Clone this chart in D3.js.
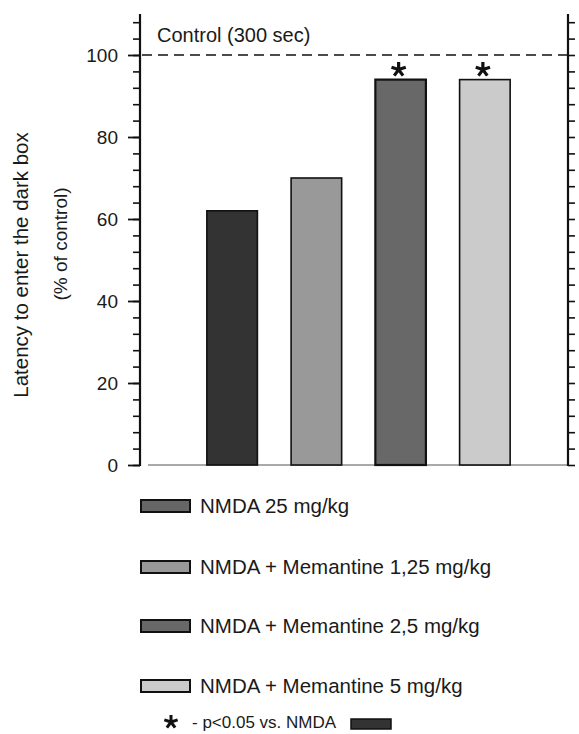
<!DOCTYPE html>
<html>
<head>
<meta charset="utf-8">
<script src="https://cdn.jsdelivr.net/npm/d3@7"></script>
<style>
  body { margin: 0; background: #fff; }
  text { font-family: "Liberation Sans", Arial, sans-serif; fill: #1a1a1a; }
</style>
</head>
<body>
<svg width="579" height="734"></svg>
<script>
// data
var groups = ["NMDA 25 mg/kg", "NMDA + Memantine 1,25 mg/kg", "NMDA + Memantine 2,5 mg/kg", "NMDA + Memantine 5 mg/kg"];
var values = [62, 70, 94, 94];
var signif = [false, false, true, true];
var fills = ["#333333", "#999999", "#686868", "#cbcbcb"];
var majorTicks = [0, 20, 40, 60, 80, 100];
var minorTicks = d3.range(0, 110, 4);
var controlValue = 100;

var svg = d3.select("svg");

var y = d3.scaleLinear().domain([0, 110]).range([465, 14]);
var x = d3.scaleBand().domain(groups).range([190, 527]).paddingInner(0.4).paddingOuter(0.2);

var left = 140, right = 568;

// 5-armed asterisk path
function starPath(r) {
  var p = d3.path();
  for (var k = 0; k < 5; k++) {
    var a = -Math.PI / 2 + k * 2 * Math.PI / 5;
    p.moveTo(0, 0);
    p.lineTo(r * Math.cos(a), r * Math.sin(a));
  }
  return p.toString();
}

// baseline
svg.append("line")
  .attr("x1", 148).attr("x2", right)
  .attr("y1", y(0)).attr("y2", y(0))
  .attr("stroke", "#555").attr("stroke-width", 1);

// left axis
var yAxisMinor = d3.axisLeft(y).tickValues(minorTicks).tickSize(7).tickFormat("");
svg.append("g").attr("transform", "translate(" + left + ",0)").call(yAxisMinor)
  .call(function(g) { g.select(".domain").remove(); })
  .selectAll("line").attr("stroke", "#111").attr("stroke-width", 1.6);

var yAxis = d3.axisLeft(y).tickValues(majorTicks).tickSize(12).tickPadding(10);
var gy = svg.append("g").attr("transform", "translate(" + left + ",0)").call(yAxis);
gy.select(".domain").remove();
gy.selectAll("line").attr("stroke", "#111").attr("stroke-width", 1.8);
gy.selectAll("text").style("font-size", "19px").attr("fill", "#1a1a1a")
  .style("font-family", "'Liberation Sans', Arial, sans-serif");

svg.append("line")
  .attr("x1", left).attr("x2", left)
  .attr("y1", y(110)).attr("y2", y(0) + 1)
  .attr("stroke", "#111").attr("stroke-width", 2.2);

// right axis
var yAxisRight = d3.axisRight(y).tickValues(minorTicks).tickSize(7).tickFormat("");
svg.append("g").attr("transform", "translate(" + right + ",0)").call(yAxisRight)
  .call(function(g) { g.select(".domain").remove(); })
  .selectAll("line").attr("stroke", "#111").attr("stroke-width", 1.6);
svg.append("line")
  .attr("x1", right).attr("x2", right)
  .attr("y1", y(110)).attr("y2", y(0) + 1)
  .attr("stroke", "#111").attr("stroke-width", 2.2);

// control line
svg.append("line")
  .attr("x1", left + 2).attr("x2", right)
  .attr("y1", y(controlValue)).attr("y2", y(controlValue))
  .attr("stroke", "#111").attr("stroke-width", 1.6)
  .attr("stroke-dasharray", "10,6");

svg.append("text")
  .attr("x", 157).attr("y", 42)
  .style("font-size", "20px")
  .text("Control (300 sec)");

// bars
svg.selectAll("rect.bar")
  .data(values)
  .enter().append("rect")
  .attr("class", "bar")
  .attr("x", function(d, i) { return x(groups[i]); })
  .attr("y", function(d) { return y(d); })
  .attr("width", x.bandwidth())
  .attr("height", function(d) { return y(0) - y(d); })
  .attr("fill", function(d, i) { return fills[i]; })
  .attr("stroke", "#111")
  .attr("stroke-width", function(d, i) { return i == 2 ? 2.2 : 1.6; });

// significance stars
groups.forEach(function(g, i) {
  if (!signif[i]) return;
  svg.append("path")
    .attr("transform", "translate(" + (x(g) + x.bandwidth() / 2 - 2) + "," + (y(values[i]) - 10) + ")")
    .attr("d", starPath(7.5))
    .attr("stroke", "#111")
    .attr("stroke-width", 3.2)
    .attr("fill", "none");
});

// y title
svg.append("text")
  .attr("transform", "translate(28,265) rotate(-90)")
  .attr("text-anchor", "middle")
  .style("font-size", "20.5px")
  .text("Latency to enter the dark box");
svg.append("text")
  .attr("transform", "translate(67,244) rotate(-90)")
  .attr("text-anchor", "middle")
  .style("font-size", "19px")
  .text("(% of control)");

// legend
var legendY = [506, 567, 626, 686];
var legend = svg.selectAll("g.legend")
  .data(groups)
  .enter().append("g")
  .attr("class", "legend")
  .attr("transform", function(d, i) { return "translate(141," + legendY[i] + ")"; });

legend.append("rect")
  .attr("x", 0).attr("y", -6)
  .attr("width", 49).attr("height", 12)
  .attr("fill", function(d, i) { return i == 0 ? "#666" : fills[i]; })
  .attr("stroke", "#111")
  .attr("stroke-width", 2);

legend.append("text")
  .attr("x", 59).attr("y", 7)
  .style("font-size", "20.5px")
  .text(function(d) { return d; });

// significance note
svg.append("path")
  .attr("transform", "translate(171,722)")
  .attr("d", starPath(7))
  .attr("stroke", "#111")
  .attr("stroke-width", 3)
  .attr("fill", "none");
svg.append("text")
  .attr("x", 192).attr("y", 728)
  .style("font-size", "17px")
  .text("- p<0.05 vs. NMDA");
svg.append("rect")
  .attr("x", 351).attr("y", 719)
  .attr("width", 40).attr("height", 10)
  .attr("fill", fills[0])
  .attr("stroke", "#111")
  .attr("stroke-width", 1.5);
</script>
</body>
</html>
